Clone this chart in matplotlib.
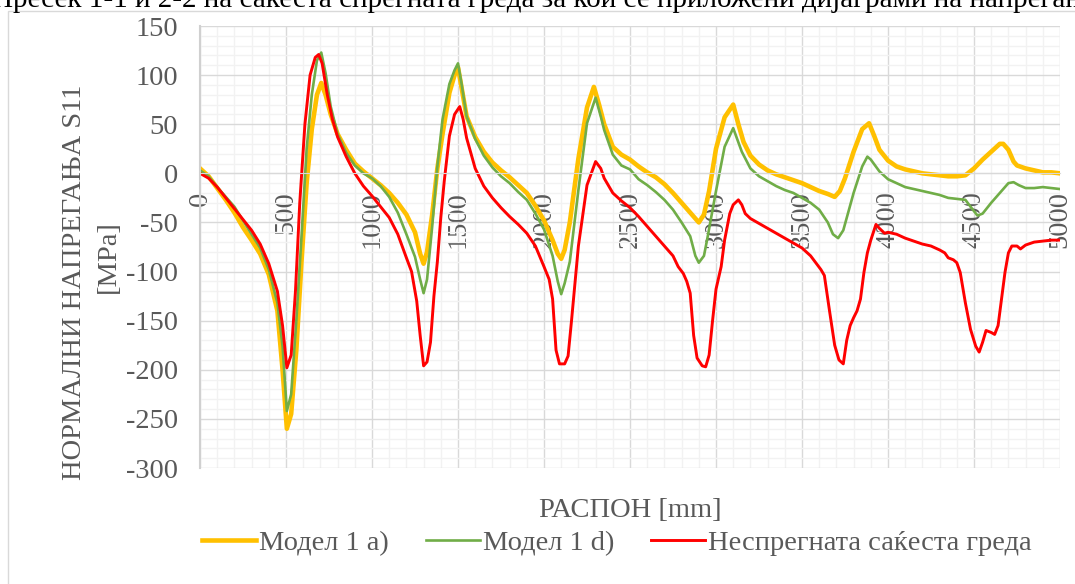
import matplotlib
matplotlib.use("Agg")
import matplotlib.pyplot as plt
from matplotlib.ticker import MultipleLocator

# ---- data ----
x_1a = [0, 50, 100, 150, 200, 250, 300, 350, 400, 450, 480, 505, 530, 560, 590, 620, 650, 680, 705, 730,
        760, 800, 850, 900, 950, 1000, 1050, 1100, 1150, 1200, 1250, 1280, 1300, 1320, 1350, 1380, 1410, 1450,
        1480, 1500, 1520, 1550, 1600, 1650, 1700, 1750, 1800, 1850, 1900, 1950, 2000, 2050, 2080, 2100, 2120,
        2150, 2200, 2250, 2290, 2320, 2350, 2400, 2450, 2500, 2550, 2600, 2650, 2700, 2750, 2800, 2850, 2900,
        2930, 2960, 3000, 3050, 3100, 3130, 3160, 3200, 3250, 3300, 3350, 3400, 3450, 3500, 3550, 3600, 3650,
        3690, 3720, 3750, 3800, 3850, 3890, 3920, 3950, 4000, 4050, 4100, 4150, 4200, 4250, 4300, 4350, 4400,
        4450, 4500, 4550, 4600, 4650, 4670, 4700, 4730, 4750, 4800, 4850, 4900, 4950, 5000]
s11_1a = [5, -3, -15, -27, -40, -55, -68, -82, -103, -140, -200, -260, -245, -180, -90, -10, 45, 80, 92, 80,
          60, 40, 24, 10, 2, -5, -12, -20, -30, -42, -60, -82, -92, -80, -42, 5, 40, 82,
          100, 108, 88, 58, 37, 22, 11, 3, -4, -12, -20, -33, -48, -68, -82, -87, -78,
          -50, 15, 67, 88, 70, 50, 27, 19, 14, 7, 1, -4, -11, -20, -30, -40, -50,
          -42, -18, 25, 57, 70, 50, 32, 18, 9, 3, -1, -4, -7, -10, -14, -18, -21,
          -24, -18, -5, 22, 45, 51, 38, 24, 13, 7, 4, 2, 0, -1, -2, -3, -3,
          -2, 5, 14, 22, 30, 30, 24, 12, 8, 5, 3, 1, 1, 0]

x_1d = [0, 50, 100, 150, 200, 250, 300, 350, 400, 450, 480, 505, 530, 560, 590, 620, 650, 680, 705, 730,
        760, 800, 850, 900, 950, 1000, 1050, 1100, 1150, 1200, 1250, 1280, 1300, 1320, 1350, 1380, 1410, 1450,
        1480, 1500, 1520, 1550, 1600, 1650, 1700, 1750, 1800, 1850, 1900, 1950, 2000, 2050, 2080, 2100, 2120,
        2150, 2200, 2250, 2300, 2330, 2350, 2400, 2450, 2500, 2550, 2600, 2650, 2700, 2750, 2800, 2850, 2880,
        2900, 2930, 2950, 3000, 3050, 3100, 3150, 3200, 3250, 3300, 3350, 3400, 3450, 3500, 3550, 3600, 3650,
        3680, 3710, 3740, 3800, 3850, 3880, 3900, 3950, 4000, 4050, 4100, 4150, 4200, 4250, 4300, 4350, 4400,
        4450, 4480, 4520, 4550, 4600, 4650, 4700, 4730, 4760, 4800, 4850, 4900, 4950, 5000]
s11_1d = [3, -3, -14, -24, -34, -48, -62, -76, -98, -132, -176, -242, -225, -150, -65, 25, 80, 115, 123, 102,
          68, 40, 21, 8, 0, -5, -13, -24, -40, -62, -85, -108, -122, -108, -54, 7, 55, 91,
          105, 112, 92, 58, 35, 18, 6, -3, -10, -19, -27, -41, -57, -84, -110, -123, -112,
          -90, -17, 51, 77, 58, 44, 19, 8, 4, -6, -12, -19, -27, -37, -50, -64, -84,
          -91, -84, -66, -18, 27, 46, 22, 5, -3, -8, -13, -17, -20, -25, -30, -37, -50,
          -62, -66, -58, -20, 7, 17, 14, 2, -6, -10, -14, -16, -18, -20, -22, -25, -26,
          -27, -34, -43, -41, -30, -20, -10, -9, -12, -15, -15, -14, -15, -16]

x_nesp = [0, 50, 100, 150, 200, 250, 300, 350, 400, 450, 480, 505, 530, 555, 580, 610, 640, 670, 690, 710,
          740, 770, 800, 850, 900, 950, 1000, 1050, 1100, 1150, 1200, 1230, 1260, 1280, 1300, 1320, 1340, 1360,
          1380, 1400, 1420, 1450, 1480, 1510, 1530, 1550, 1600, 1650, 1700, 1750, 1800, 1850, 1900, 1950, 2000,
          2030, 2050, 2070, 2090, 2120, 2140, 2160, 2200, 2250, 2300, 2330, 2350, 2400, 2450, 2500, 2550, 2600,
          2650, 2700, 2750, 2780, 2810, 2830, 2850, 2870, 2890, 2920, 2940, 2960, 2980, 3000, 3030, 3050, 3080,
          3100, 3130, 3150, 3170, 3200, 3250, 3300, 3350, 3400, 3450, 3500, 3550, 3580, 3610, 3630, 3660, 3690,
          3715, 3740, 3760, 3780, 3800, 3820, 3840, 3860, 3880, 3900, 3930, 3950, 3980, 4000, 4050, 4100, 4150,
          4200, 4250, 4300, 4330, 4350, 4380, 4400, 4420, 4450, 4480, 4510, 4530, 4550, 4570, 4600, 4620, 4640,
          4660, 4680, 4700, 4720, 4750, 4770, 4800, 4850, 4900, 4950, 5000]
s11_nesp = [0, -5, -14, -25, -36, -47, -58, -72, -92, -120, -155, -198, -185, -120, -30, 50, 100, 118, 121, 112,
            80, 55, 37, 17, 0, -13, -23, -34, -45, -62, -86, -100, -130, -165, -196, -192, -172, -125,
            -90, -45, -8, 38, 60, 68, 55, 36, 5, -13, -25, -35, -44, -52, -61, -74, -95,
            -108, -128, -180, -194, -194, -186, -150, -74, -12, 12, 5, -5, -20, -28, -35, -44, -54,
            -64, -74, -84, -95, -102, -110, -122, -165, -188, -196, -197, -185, -150, -118, -95, -68, -41,
            -32, -27, -32, -41, -46, -51, -56, -61, -66, -71, -76, -84, -91, -98, -104, -140, -175,
            -190, -194, -170, -155, -147, -140, -128, -101, -81, -68, -52, -56, -61, -60, -62, -66, -69,
            -72, -74, -78, -81, -86, -88, -91, -101, -132, -159, -176, -182, -172, -160, -162, -164, -155,
            -128, -101, -81, -74, -74, -77, -73, -70, -69, -68, -68]

series_labels = ["Модел 1 а)", "Модел 1 d)", "Неспрегната саќеста греда"]
title_text = "Пресек 1-1 и 2-2 на сакеста спрегната греда за кои се приложени дијаграми на напрегања"

plt.rcParams["font.family"] = ["Liberation Serif", "DejaVu Serif"]
plt.rcParams["axes.unicode_minus"] = False
grey = "#595959"
fs = 20.5

fig = plt.figure(figsize=(10.75, 5.84), dpi=100)
ax = fig.add_axes([200 / 1075, 1 - 468 / 584, 860 / 1075, 442 / 584])

ax.plot(x_1a, s11_1a, color="#FFC000", lw=3.3, label=series_labels[0], solid_joinstyle="round")
ax.plot(x_1d, s11_1d, color="#70AD47", lw=1.9, label=series_labels[1], solid_joinstyle="round")
ax.plot(x_nesp, s11_nesp, color="#FF0000", lw=2.1, label=series_labels[2], solid_joinstyle="round")

ax.set_xlim(0, 5000)
ax.set_ylim(-300, 150)
ax.xaxis.set_major_locator(MultipleLocator(500))
ax.xaxis.set_minor_locator(MultipleLocator(100))
ax.yaxis.set_major_locator(MultipleLocator(50))
ax.yaxis.set_minor_locator(MultipleLocator(10))
ax.set_axisbelow(True)
ax.grid(which="minor", color="#f2f2f2", lw=1.0)
ax.grid(which="major", color="#d9d9d9", lw=1.0)

for s in ["top", "right"]:
    ax.spines[s].set_visible(False)
ax.spines["left"].set_color("#d0d0d0")
ax.spines["left"].set_linewidth(1.5)
ax.spines["bottom"].set_position(("data", 0))
ax.spines["bottom"].set_color("#d9d9d9")

ax.tick_params(axis="x", which="both", length=0, pad=13, labelsize=fs, labelcolor=grey, labelrotation=90)
ax.tick_params(axis="y", which="both", length=0, pad=16, labelsize=fs, labelcolor=grey)

ax.set_xlabel("РАСПОН [mm]", fontsize=fs, color=grey)
ax.xaxis.set_label_coords(0.5, -0.068)

# y axis title: two lines, the second one sits a bit higher in the reference
ax.set_ylabel("НОРМАЛНИ НАПРЕГАЊА S11", fontsize=fs, color=grey)
ax.yaxis.set_label_coords(-0.131, (468 - 282) / 442)
ax.text(-0.092, (468 - 257) / 442, "[MPa]", transform=ax.transAxes, rotation=90,
        ha="right", va="center", fontsize=fs, color=grey)

fig.legend(loc="center", bbox_to_anchor=(617 / 1075, 1 - 543 / 584), ncol=3, frameon=False,
           fontsize=fs, labelcolor=grey, handlelength=1.9, handletextpad=0.1, columnspacing=1.3)

fig.text(-8 / 1075, 1 - 7 / 584, title_text, fontsize=21, color="black", ha="left", va="baseline")

border = plt.Rectangle((8 / 1075, -0.1), 1.2, 1.1 - 11 / 584, transform=fig.transFigure,
                       fill=False, edgecolor="#d9d9d9", lw=1.0, clip_on=False)
fig.patches.append(border)

fig.savefig("out.png", dpi=100)
